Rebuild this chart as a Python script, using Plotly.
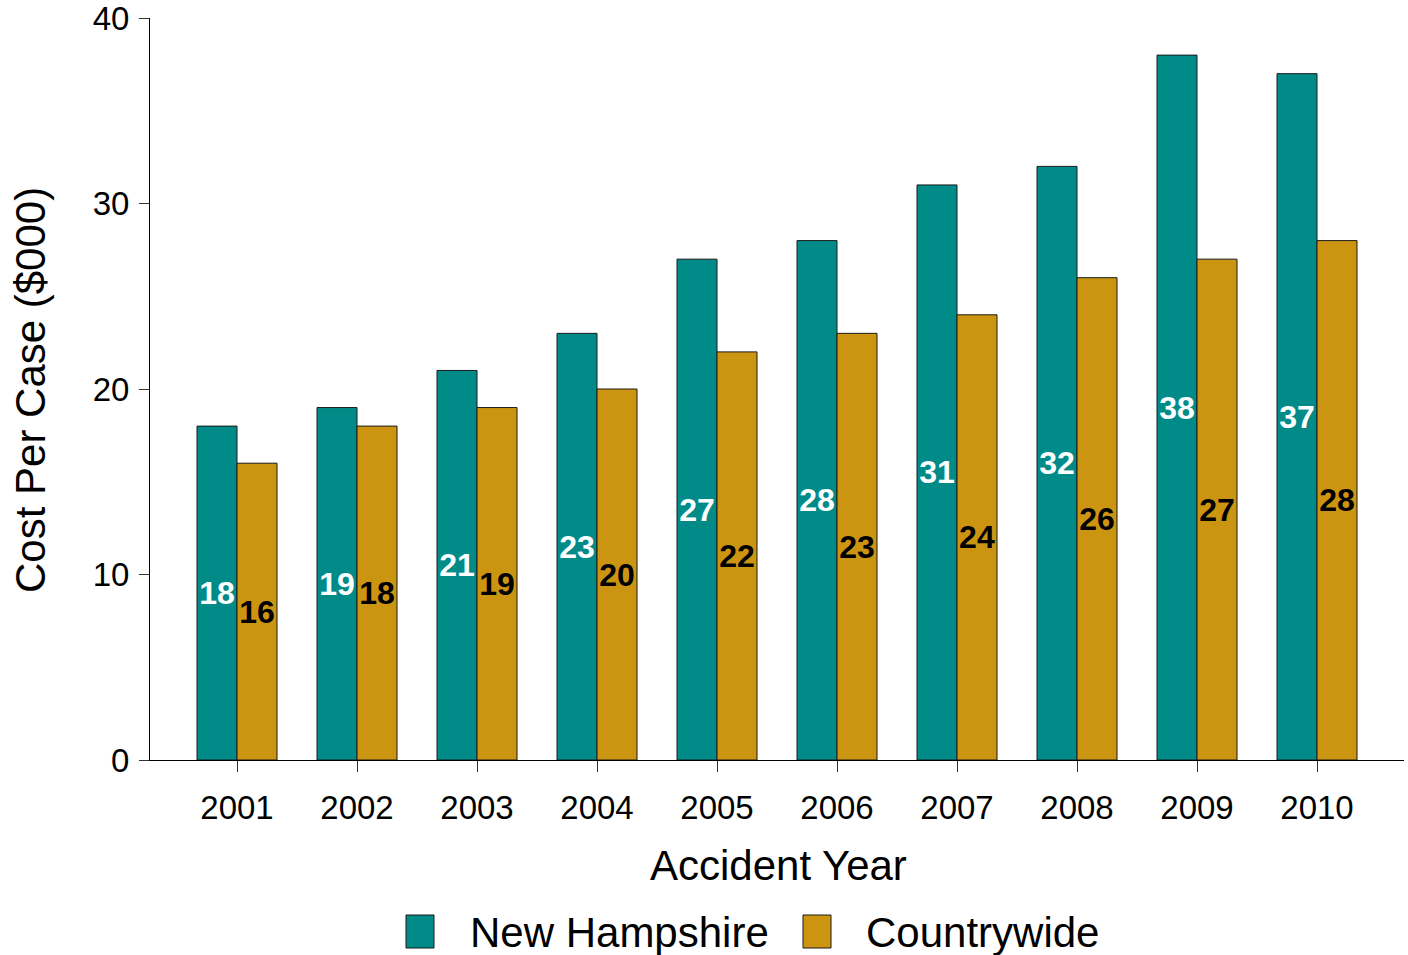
import plotly.graph_objects as go

years = ["2001", "2002", "2003", "2004", "2005", "2006", "2007", "2008", "2009", "2010"]
new_hampshire = [18, 19, 21, 23, 27, 28, 31, 32, 38, 37]
countrywide = [16, 18, 19, 20, 22, 23, 24, 26, 27, 28]
y_ticks = [0, 10, 20, 30, 40]

TEAL = "#008B89"
GOLD = "#CC9511"
FONT = "Liberation Sans, Arial, sans-serif"

W, H = 1408, 955
L, R, T, B = 150, 4, 18, 955 - 760
PW, PH = W - L - R, H - T - B


def px_x(px):
    return (px - L) / PW


def px_y(py):
    return (H - B - py) / PH


fig = go.Figure()
fig.add_trace(go.Bar(
    x=years, y=new_hampshire, name="New Hampshire",
    marker=dict(color=TEAL, line=dict(color="#1a1a1a", width=1)),
    texttemplate="<b>%{y}</b>", textposition="inside", insidetextanchor="middle",
    constraintext="none", textangle=0,
    textfont=dict(family=FONT, size=32, color="white"),
    showlegend=False, cliponaxis=False,
))
fig.add_trace(go.Bar(
    x=years, y=countrywide, name="Countrywide",
    marker=dict(color=GOLD, line=dict(color="#1a1a1a", width=1)),
    texttemplate="<b>%{y}</b>", textposition="inside", insidetextanchor="middle",
    constraintext="none", textangle=0,
    textfont=dict(family=FONT, size=32, color="black"),
    showlegend=False, cliponaxis=False,
))

fig.update_layout(
    width=W, height=H,
    margin=dict(l=L, r=R, t=T, b=B, autoexpand=False),
    paper_bgcolor="white", plot_bgcolor="white",
    font=dict(family=FONT, size=33, color="black"),
    barmode="group", bargap=1/3, bargroupgap=0,
    showlegend=False,
)
fig.update_xaxes(
    type="category", range=[-0.725, 9.725],
    showline=True, linecolor="black", linewidth=1,
    ticks="outside", ticklen=11, tickcolor="#333333", tickwidth=1,
    ticklabelstandoff=7,
    showgrid=False, zeroline=False,
    tickfont=dict(family=FONT, size=33),
)
fig.update_yaxes(
    range=[0, 40], tickvals=y_ticks,
    showline=True, linecolor="black", linewidth=1,
    ticks="outside", ticklen=10, tickcolor="#333333", tickwidth=1,
    ticklabelstandoff=3, ticklabeloverflow="allow",
    showgrid=False, zeroline=False,
    tickfont=dict(family=FONT, size=33),
)

annotations = [
    dict(text="Accident Year", x=px_x(778), y=px_y(865), xref="paper", yref="paper",
         xanchor="center", yanchor="middle", showarrow=False, font=dict(size=42)),
    dict(text="Cost Per Case ($000)", x=px_x(30), y=px_y(390), xref="paper", yref="paper",
         xanchor="center", yanchor="middle", showarrow=False, textangle=-90, font=dict(size=42)),
    dict(text="New Hampshire", x=px_x(468), y=px_y(933), xref="paper", yref="paper",
         xanchor="left", yanchor="middle", showarrow=False, font=dict(size=42)),
    dict(text="Countrywide", x=px_x(864), y=px_y(933), xref="paper", yref="paper",
         xanchor="left", yanchor="middle", showarrow=False, font=dict(size=42)),
]
shapes = [
    dict(type="rect", xref="paper", yref="paper",
         x0=px_x(406), x1=px_x(434), y0=px_y(915), y1=px_y(948),
         fillcolor=TEAL, line=dict(color="#1a1a1a", width=1)),
    dict(type="rect", xref="paper", yref="paper",
         x0=px_x(803), x1=px_x(831), y0=px_y(915), y1=px_y(948),
         fillcolor=GOLD, line=dict(color="#1a1a1a", width=1)),
]
fig.update_layout(annotations=annotations, shapes=shapes)

fig.write_html(
    "out.html",
    config={"displayModeBar": False},
    post_script="document.body.style.margin='0';document.body.style.overflow='hidden';",
)
